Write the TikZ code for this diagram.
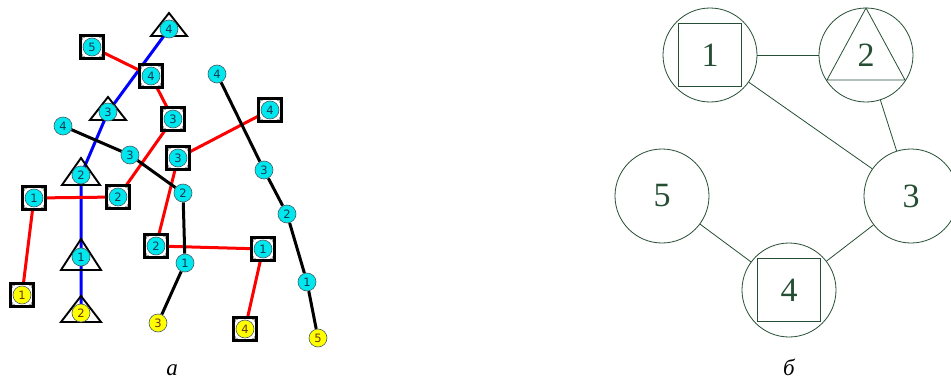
\documentclass[tikz,border=0pt]{standalone}
\usepackage{fontspec}
\setmainfont{Liberation Serif}
\newfontfamily\tinysans{DejaVu Sans}
\usetikzlibrary{calc}
\pgfdeclarelayer{edges}
\pgfdeclarelayer{frames}
\pgfsetlayers{edges,frames,main}

\definecolor{ballcyan}{RGB}{0,232,238}
\definecolor{ballyellow}{RGB}{255,255,0}
\definecolor{digitblue}{RGB}{20,55,85}
\definecolor{digitbrown}{RGB}{110,50,10}
\definecolor{graphgreen}{RGB}{38,78,52}

\tikzset{
  ball/.style={circle, fill=ballcyan, draw={rgb,255:red,70;green,90;blue,100}, line width=0.6pt,
    minimum size=18pt, inner sep=0pt, text=digitblue,
    font=\tinysans\fontsize{11.5}{11.5}\selectfont},
  yball/.style={ball, fill=ballyellow, text=digitbrown},
  sqframe/.style={rectangle, draw=black, fill=white, line width=2.3pt,
    minimum size=23pt, inner sep=0pt,
    path picture={
      \draw[gray!70, line width=0.7pt]
        ([shift={(2pt,-4.5pt)}]path picture bounding box.north west) -- ++(0pt,2.5pt) -- ++(2.5pt,0pt)
        ([shift={(-2pt,-4.5pt)}]path picture bounding box.north east) -- ++(0pt,2.5pt) -- ++(-2.5pt,0pt)
        ([shift={(2pt,4.5pt)}]path picture bounding box.south west) -- ++(0pt,-2.5pt) -- ++(2.5pt,0pt)
        ([shift={(-2pt,4.5pt)}]path picture bounding box.south east) -- ++(0pt,-2.5pt) -- ++(-2.5pt,0pt);
    }},
  triframe/.style={draw=black, line width=1.9pt, line join=miter},
  redlink/.style={draw={rgb,255:red,255;green,0;blue,0}, line width=3pt},
  bluelink/.style={draw={rgb,255:red,0;green,0;blue,255}, line width=3pt},
  blacklink/.style={draw=black, line width=3pt},
  bignode/.style={circle, draw=graphgreen, line width=0.8pt, minimum size=94pt,
    inner sep=0pt, text=graphgreen, font=\fontsize{34}{34}\selectfont},
  inbox/.style={rectangle, draw=graphgreen, line width=0.8pt, minimum size=63pt, inner sep=0pt},
  thinlink/.style={draw=graphgreen, line width=0.8pt},
  caption/.style={anchor=base, font=\itshape\fontsize{23}{23}\selectfont, text=black}
}

% triangle frame around a ball: apex offset, base offset, half width
\newcommand\trisurround[4]{%
  \draw[triframe] ([shift={(0,-#2)}]#1.center) -- ([shift={(#4,#3)}]#1.center)
    -- ([shift={(-#4,#3)}]#1.center) -- cycle;}

\begin{document}
\begin{tikzpicture}[x=1pt,y=-1pt]
\useasboundingbox (0,0) rectangle (951,380);

% ---------------- left panel: routes ----------------
% triangle chain (blue)
\node[ball]  (t4) at (169,29) {4};
\node[ball]  (t3) at (108,112) {3};
\node[ball]  (t2) at (81,175) {2};
\node[ball]  (t1) at (81,257) {1};
\node[yball] (t0) at (81,313) {2};

% upper square chain
\node[ball]  (a5) at (92,47) {5};
\node[ball]  (a4) at (151,76) {4};
\node[ball]  (a3) at (173,119) {3};
\node[ball]  (a2) at (118,197) {2};
\node[ball]  (a1) at (34,198) {1};
\node[yball] (a0) at (22,295) {1};

% lower square chain
\node[ball]  (b4) at (270,110) {4};
\node[ball]  (b3) at (178,158) {3};
\node[ball]  (b2) at (156,246) {2};
\node[ball]  (b1) at (263,249) {1};
\node[yball] (b0) at (245,329) {4};

% left circle chain
\node[ball]  (c4) at (63,126) {4};
\node[ball]  (c3) at (130,155) {3};
\node[ball]  (c2) at (183,193) {2};
\node[ball]  (c1) at (185,263) {1};
\node[yball] (c0) at (158,323) {3};

% right circle chain
\node[ball]  (d4) at (217,74) {4};
\node[ball]  (d3) at (264,170) {3};
\node[ball]  (d2) at (287,214) {2};
\node[ball]  (d1) at (307,282) {1};
\node[yball] (d0) at (318,338) {5};

\begin{pgfonlayer}{frames}
  \foreach \n in {a5,a4,a3,a2,a1,a0,b4,b3,b2,b1,b0}
    \node[sqframe] at (\n.center) {};
  \trisurround{t4}{16}{7}{18}
  \trisurround{t3}{15}{8}{18}
  \trisurround{t2}{17}{10}{19}
  \trisurround{t1}{18}{13}{20}
  \trisurround{t0}{17}{9}{20}
\end{pgfonlayer}

\begin{pgfonlayer}{edges}
  \draw[bluelink] (t4.center) -- (t3.center) -- (t2.center) -- (t1.center) -- (t0.center);
  \draw[redlink] (a5) -- (a4) -- (a3) -- (a2) -- (a1) -- (a0);
  \draw[redlink] (b4) -- (b3) -- (b2) -- (b1) -- (b0);
  \draw[blacklink] (c4) -- (c3) -- (c2) -- (c1) -- (c0);
  \draw[blacklink] (d4) -- (d3) -- (d2) -- (d1) -- (d0);
\end{pgfonlayer}

\node[caption] (capa) at (172,375) {а};

% ---------------- right panel: conflict graph ----------------
\node[bignode] (g1) at (710,55) {1};
\node[bignode] (g2) at (866,55) {2};
\node[bignode] (g3) at (911,196) {3};
\node[bignode] (g5) at (662,196) {5};
\node[bignode] (g4) at (789,290) {4};

\node[inbox] (g1box) at (g1.center) {};
\node[inbox] (g4box) at (g4.center) {};
\draw[thinlink] ([shift={(0,-47)}]g2.center) -- ([shift={(39,25)}]g2.center)
  -- ([shift={(-39,25)}]g2.center) -- cycle;

\draw[thinlink] (g1) -- (g2);
\draw[thinlink] (g1) -- (g3);
\draw[thinlink] (g2) -- (g3);
\draw[thinlink] (g3) -- (g4);
\draw[thinlink] (g5) -- (g4);

\node[caption] (capb) at (789,375) {б};
\end{tikzpicture}
\end{document}
